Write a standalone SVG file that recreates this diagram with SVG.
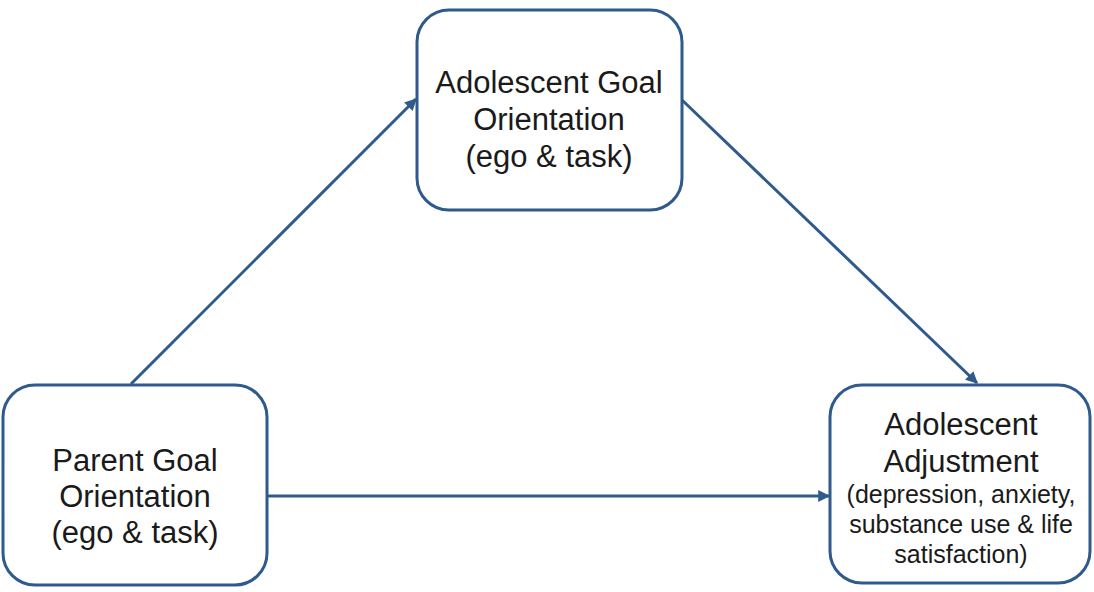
<svg xmlns="http://www.w3.org/2000/svg" width="1094" height="592" viewBox="0 0 1094 592">
<style>
.box{fill:#fff;stroke:#2e5a8c;stroke-width:3}
.t{font-family:"Liberation Sans",Arial,sans-serif;font-size:31px;fill:#1a1a1a;text-anchor:middle}
.s{font-size:25px}
.c{stroke:#2e5a8c;stroke-width:3;fill:none;marker-end:url(#ah)}
</style>
<defs>
<marker id="ah" viewBox="0 0 10 10" refX="9" refY="5" markerWidth="4.5" markerHeight="4" orient="auto" markerUnits="strokeWidth">
<path d="M0,0L10,5L0,10z" fill="#2e5a8c"/>
</marker>
</defs>
<rect width="1094" height="592" fill="#fff"/>
<g id="connectors">
<line class="c" x1="131" y1="384" x2="416" y2="99"/>
<line class="c" x1="682" y1="100" x2="977" y2="383"/>
<line class="c" x1="268" y1="496" x2="829" y2="496"/>
</g>
<g id="parent">
<rect class="box" x="3" y="385" width="264" height="200" rx="32"/>
<text class="t" x="135" y="471">Parent Goal</text>
<text class="t" x="135" y="507">Orientation</text>
<text class="t" x="135" y="543">(ego &amp; task)</text>
</g>
<g id="adolescent-goal">
<rect class="box" x="417" y="10" width="265" height="200" rx="32"/>
<text class="t" x="549" y="93">Adolescent Goal</text>
<text class="t" x="549" y="130">Orientation</text>
<text class="t" x="549" y="167">(ego &amp; task)</text>
</g>
<g id="adjustment">
<rect class="box" x="830" y="385" width="260" height="198" rx="32"/>
<text class="t" x="961" y="435">Adolescent</text>
<text class="t" x="961" y="472">Adjustment</text>
<text class="t s" x="961" y="503">(depression, anxiety,</text>
<text class="t s" x="961" y="533">substance use &amp; life</text>
<text class="t s" x="961" y="563">satisfaction)</text>
</g>
</svg>
